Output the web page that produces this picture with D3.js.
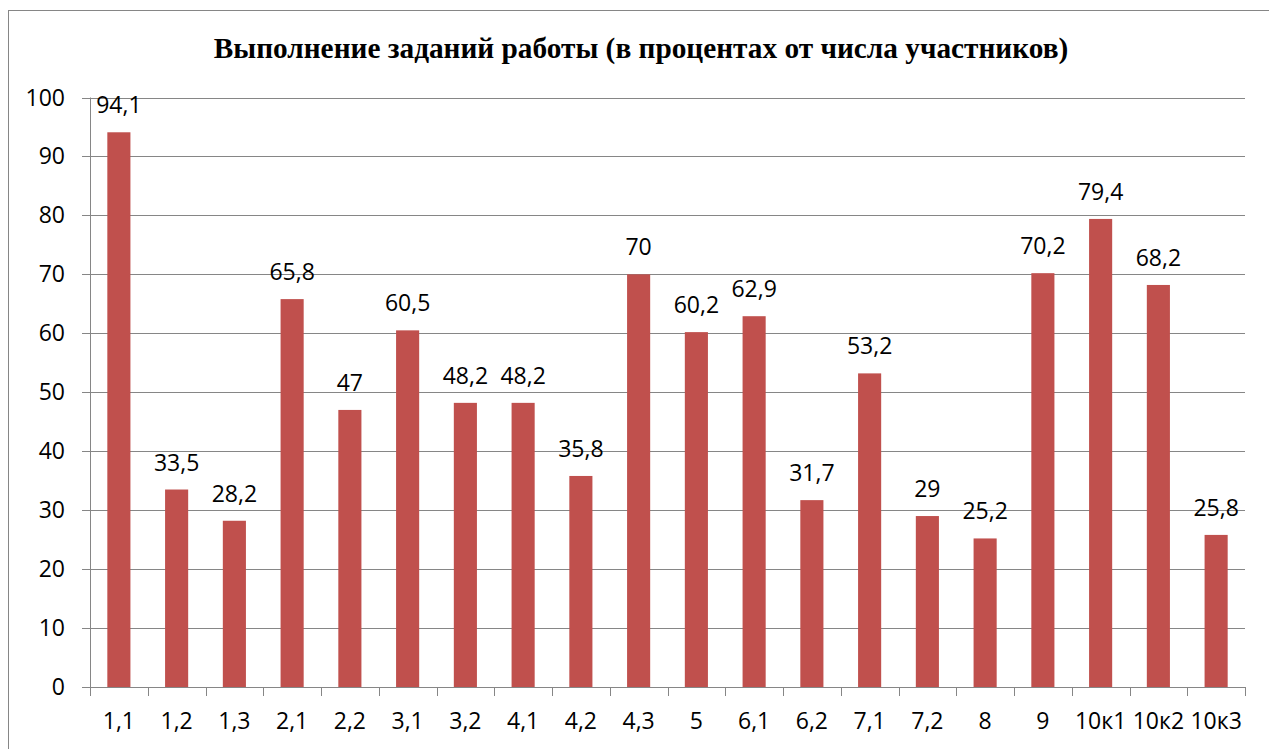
<!DOCTYPE html>
<html>
<head>
<meta charset="utf-8">
<script src="https://cdn.jsdelivr.net/npm/d3@7"></script>
<style>
  body { margin: 0; background: #fff; }
  svg { display: block; }
</style>
</head>
<body>
<div id="chart"></div>
<script>
const categories = ['1,1', '1,2', '1,3', '2,1', '2,2', '3,1', '3,2', '4,1', '4,2', '4,3',
                    '5', '6,1', '6,2', '7,1', '7,2', '8', '9', '10к1', '10к2', '10к3'];
const values = [94.1, 33.5, 28.2, 65.8, 47, 60.5, 48.2, 48.2, 35.8, 70,
                60.2, 62.9, 31.7, 53.2, 29, 25.2, 70.2, 79.4, 68.2, 25.8];
const yTicks = [0, 10, 20, 30, 40, 50, 60, 70, 80, 90, 100];
const title = 'Выполнение заданий работы (в процентах от числа участников)';

const width = 1269;
const height = 749;
const margin = { left: 90, right: 24, top: 97.5, bottom: 62 };
const labelFont = '"Open Sans", "Noto Sans", sans-serif';
const labelSize = '23px';

const svg = d3.select('#chart')
  .append('svg')
  .attr('width', width)
  .attr('height', height);

// outer frame
svg.append('rect')
  .attr('x', 8.5)
  .attr('y', 10.5)
  .attr('width', width + 20)
  .attr('height', height + 20)
  .attr('fill', 'none')
  .attr('stroke', '#868686')
  .attr('stroke-width', 1);

svg.append('text')
  .attr('x', 641)
  .attr('y', 58)
  .attr('text-anchor', 'middle')
  .style('font-family', '"Liberation Serif", "Times New Roman", serif')
  .style('font-weight', 'bold')
  .style('font-size', '29.3px')
  .text(title);

const x = d3.scaleBand()
  .domain(categories)
  .range([margin.left, width - margin.right]);

const y = d3.scaleLinear()
  .domain([0, 100])
  .range([height - margin.bottom, margin.top]);

// gridlines
svg.append('g')
  .selectAll('line')
  .data(yTicks)
  .enter()
  .append('line')
  .attr('x1', margin.left - 8)
  .attr('x2', width - margin.right)
  .attr('y1', d => Math.round(y(d)) + 0.5)
  .attr('y2', d => Math.round(y(d)) + 0.5)
  .attr('stroke', '#868686')
  .attr('stroke-width', 1);

// y axis labels
svg.append('g')
  .selectAll('text')
  .data(yTicks)
  .enter()
  .append('text')
  .attr('x', 65)
  .attr('y', d => y(d) + 8)
  .attr('text-anchor', 'end')
  .style('font-family', labelFont)
  .style('font-size', labelSize)
  .text(d => d);

svg.append('line')
  .attr('x1', margin.left + 0.5)
  .attr('x2', margin.left + 0.5)
  .attr('y1', y(100))
  .attr('y2', y(0))
  .attr('stroke', '#868686');

// bars
const barW = x.bandwidth() * 0.4;
svg.append('g')
  .selectAll('rect')
  .data(values)
  .enter()
  .append('rect')
  .attr('x', (d, i) => x(categories[i]) + (x.bandwidth() - barW) / 2)
  .attr('y', d => y(d))
  .attr('width', barW)
  .attr('height', d => y(0) - y(d))
  .style('fill', '#C0504D');

// x axis
const xAxis = d3.axisBottom(x).tickSize(0).tickPadding(0);
const gx = svg.append('g')
  .attr('transform', `translate(0, ${y(0)})`)
  .call(xAxis);
gx.select('.domain').remove();
gx.selectAll('text')
  .attr('y', 42)
  .attr('dy', null)
  .style('font-family', labelFont)
  .style('font-size', labelSize)
  .attr('fill', '#000');

const tickXs = categories.map(c => x(c)).concat([x.range()[1]]);
svg.append('line')
  .attr('x1', margin.left)
  .attr('x2', width - margin.right)
  .attr('y1', Math.round(y(0)) + 0.5)
  .attr('y2', Math.round(y(0)) + 0.5)
  .attr('stroke', '#868686');
svg.append('g')
  .selectAll('line')
  .data(tickXs)
  .enter()
  .append('line')
  .attr('x1', d => Math.round(d) + 0.5)
  .attr('x2', d => Math.round(d) + 0.5)
  .attr('y1', y(0))
  .attr('y2', y(0) + 9)
  .attr('stroke', '#868686');

// value labels
svg.append('g')
  .selectAll('text')
  .data(values)
  .enter()
  .append('text')
  .attr('x', (d, i) => x(categories[i]) + x.bandwidth() / 2)
  .attr('y', d => y(d) - 19)
  .attr('text-anchor', 'middle')
  .style('font-family', labelFont)
  .style('font-size', labelSize)
  .text(d => String(d).replace('.', ','));
</script>
</body>
</html>
